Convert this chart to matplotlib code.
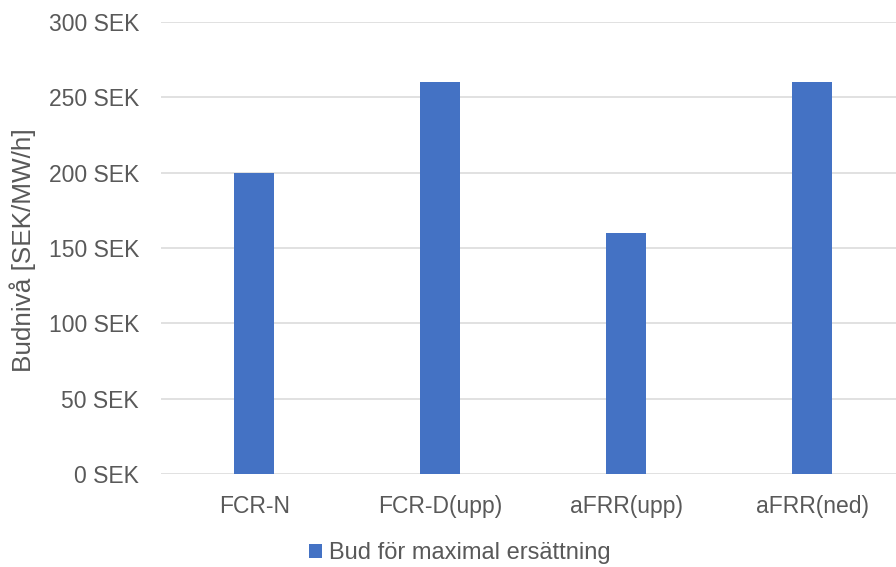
import matplotlib
matplotlib.use("Agg")
import matplotlib.pyplot as plt
from matplotlib.ticker import FuncFormatter

categories = ["FCR-N", "FCR-D(upp)", "aFRR(upp)", "aFRR(ned)"]
values = [200, 260, 160, 260]
series_name = "Bud för maximal ersättning"
y_label = "Budnivå [SEK/MW/h]"
y_ticks = [0, 50, 100, 150, 200, 250, 300]

plt.rcParams['font.family'] = ['Liberation Sans', 'DejaVu Sans']

fig = plt.figure(figsize=(8.96, 5.67), dpi=100)
ax = fig.add_axes([0.18, 0.164, 0.82, 0.797])

x = list(range(len(categories)))
ax.bar(x, values, width=0.215, color="#4472C4", label=series_name, zorder=3)

ax.set_ylim(0, 300)
ax.set_xlim(-0.5, 3.45)
ax.set_yticks(y_ticks)
ax.yaxis.set_major_formatter(FuncFormatter(lambda v, p: f"{int(v)} SEK"))
ax.set_xticks(x)
ax.set_xticklabels(categories)
ax.grid(axis="y", color="#d9d9d9", linewidth=1.1, zorder=0)
for s in ax.spines.values():
    s.set_visible(False)
ax.tick_params(axis="both", length=0, colors="#595959", labelsize=16.5)
ax.tick_params(axis="y", pad=16)
ax.tick_params(axis="x", pad=15)
fig.text(23 / 896, 1 - 250 / 567, y_label, rotation=90, ha="center", va="center",
         fontsize=18.8, color="#595959")

leg = fig.legend(loc="center", bbox_to_anchor=(0.513, 1 - 553 / 567), frameon=False,
                 fontsize=17, handlelength=0.55, handleheight=0.55, handletextpad=0.3)
for t in leg.get_texts():
    t.set_color("#595959")

fig.savefig("out.png", dpi=100)
